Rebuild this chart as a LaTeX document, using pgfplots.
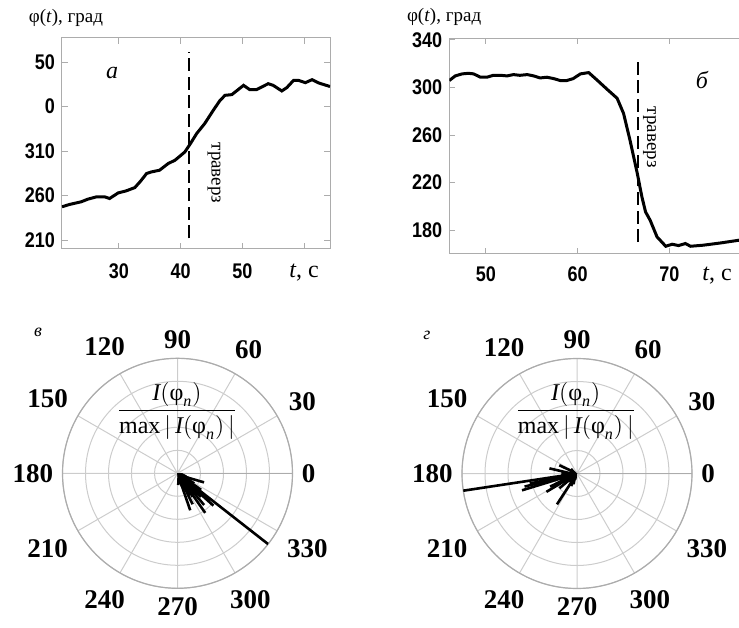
\documentclass[border=0pt]{standalone}
\usepackage{fontspec}
\setmainfont{Liberation Serif}
\newfontfamily\hel{Liberation Sans}
\usepackage{amsmath}
\usepackage{graphicx}
\usepackage{pgfplots}
\pgfplotsset{compat=1.18}
\usepackage{pgfplotstable}
\usepgfplotslibrary{polar}
\usetikzlibrary{arrows.meta}

\pgfplotstableread{
t phi
20.8 247.4
22.0 250
23.9 253
25.0 256
26.4 258.6
27.7 258.6
28.5 256.7
29.9 263
31.2 265.3
32.6 269
33.5 276
34.5 284.8
35.3 286.6
36.6 288.5
38.0 296
39.1 299.7
40.7 309
41.6 318.4
42.6 329.6
43.9 340.8
45.3 355.8
46.4 367
47.2 372.6
48.3 373.4
50.2 383.8
51.2 379
52.3 379
54.2 385.7
55.0 383.8
56.4 377.5
57.2 381.2
58.3 389.4
59.1 389.4
60.2 386.8
61.3 390.2
62.4 386.4
64.2 382.5
}\dataA

\pgfplotstableread{
t phi
46.0 305.8
46.65 309.7
47.4 311.4
48.1 311.9
48.65 311.4
49.4 308.6
50.1 308.6
50.8 310.2
51.6 310.2
52.3 309.7
53.0 310.8
53.7 310.2
54.5 310.8
55.2 309.7
55.9 308
56.65 308.6
57.4 307.4
58.1 305.8
58.8 305.8
59.5 307.4
60.3 311.4
61.2 312.5
62.1 306.3
63.2 298.5
64.3 290.9
65.0 278.2
65.7 255.8
66.5 227.7
67.0 208.1
67.4 195.4
67.9 188.4
68.65 174.4
69.6 166.5
70.3 168.2
71.0 167.1
71.75 168.8
72.3 166.5
73.7 167.4
75.6 169.3
77.6 171.6
80.0 174
}\dataB

\newcommand{\tl}{\hel\bfseries\fontsize{10.6}{11}\selectfont}
\newcommand{\sx}[1]{\scalebox{0.85}[1]{#1}}
\newcommand{\pl}{\bfseries\fontsize{13.5}{14}\selectfont}
\newcommand{\lbl}{\fontsize{9.5}{11}\selectfont}
\newcommand{\tc}{\rmfamily\mdseries\fontsize{12}{12}\selectfont\textit{t}, с}
\newcommand{\arr}[2]{%
  \pgfmathsetmacro\al{11.5*#2}\pgfmathsetmacro\aw{9.2*#2}%
  \edef\doarr{\noexpand\addplot[black, line width=1.3pt, -{Straight Barb[length=\al pt 0 0, width=\aw pt 0 0]}] coordinates {(#1,#2) (0,0)};}%
  \doarr}

\pgfplotsset{
  lineax/.style={
    anchor=south west, scale only axis,
    tick align=inside,
    axis line style={gray!65, line width=0.5pt},
    tick style={gray!65, line width=0.5pt},
    major tick length=3pt,
    ticklabel style={font=\tl},
  },
  polax/.style={
    anchor=center, scale only axis, width=115pt, height=115pt,
    ymin=0, ymax=1,
    xtick={0,30,...,330},
    xticklabels={0,30,60,90,120,150,180,210,240,270,300,330},
    ytick={0.2,0.4,0.6,0.8,1},
    yticklabels={},
    grid=major,
    major grid style={gray!40, line width=0.5pt},
    axis line style={gray!65, line width=0.6pt},
    tick style={draw=none},
    xticklabel style={font=\pl, inner sep=0.45em},
  }
}

\begin{document}
\begin{tikzpicture}
\path[use as bounding box] (0,0) rectangle (369.5pt,313.5pt);

% ---------------- panel a
\begin{axis}[lineax,
  at={(31pt,189pt)}, width=134pt, height=105.5pt,
  xmin=20.8, xmax=64.2, ymin=200, ymax=437,
  xtick={30,40,50,60},
  xticklabels={\sx{30},\sx{40},\sx{50},{\tc}},
  ytick={210,260,310,360,410}, yticklabels={\sx{210},\sx{260},\sx{310},\sx{0},\sx{50}},
  xticklabel style={yshift=-4pt},
]
\addplot[black, line width=1.5pt] table[x=t,y=phi] {\dataA};
\addplot[black, line width=1.2pt, dash pattern=on 6.5pt off 2.8pt] coordinates {(41.4,212) (41.4,421)};
\end{axis}

% ---------------- panel b
\begin{axis}[lineax,
  at={(224.65pt,186.5pt)}, width=155.9pt, height=107.9pt,
  xmin=46, xmax=80, ymin=160, ymax=341.4,
  xtick={50,60,70,80}, xticklabels={\sx{50},\sx{60},\sx{70},},
  extra x ticks={75.2},
  extra x tick labels={{\tc}},
  extra x tick style={major tick length=0pt},
  ytick={180,220,260,300,340},
  yticklabels={\sx{180},\sx{220},\sx{260},\sx{300},\sx{340}},
  xticklabel style={yshift=-3pt},
]
\addplot[black, line width=1.5pt] table[x=t,y=phi] {\dataB};
\addplot[black, line width=1.2pt, dash pattern=on 6.5pt off 2.8pt] coordinates {(66.6,170) (66.6,326)};
\end{axis}

% ---------------- panel v
\begin{polaraxis}[polax, at={(88.75pt,76.85pt)}]
\arr{322}{1.0}
\arr{289}{0.34}
\arr{296}{0.30}
\arr{305}{0.42}
\arr{310}{0.36}
\arr{318}{0.42}
\arr{321}{0.37}
\arr{315}{0.29}
\arr{325}{0.25}
\arr{329}{0.17}
\arr{335}{0.12}
\arr{300}{0.22}
\arr{340}{0.08}
\arr{310}{0.15}
\end{polaraxis}

% ---------------- panel g
\begin{polaraxis}[polax, at={(288.5pt,76.75pt)}]
\arr{188.6}{1.0}
\arr{197}{0.50}
\arr{194}{0.47}
\arr{192}{0.42}
\arr{211}{0.31}
\arr{206}{0.26}
\arr{237}{0.32}
\arr{220}{0.20}
\arr{200}{0.15}
\arr{155}{0.17}
\arr{245}{0.12}
\arr{230}{0.10}
\end{polaraxis}

% ---------------- texts
\node[anchor=west, font=\lbl, inner sep=0pt] at (14.2pt,304.3pt) {φ(\textit{t}), град};
\node[anchor=west, font=\lbl, inner sep=0pt] at (203.3pt,305.2pt) {φ(\textit{t}), град};
\node[font=\lbl, rotate=-90, inner sep=0pt] at (107pt,227pt) {траверз};
\node[font=\lbl, rotate=-90, inner sep=0pt] at (324.8pt,244.8pt) {траверз};
\node[font=\fontsize{12}{12}\selectfont\itshape, inner sep=0pt] at (56pt,277pt) {а};
\node[font=\fontsize{12}{12}\selectfont\itshape, inner sep=0pt] at (351pt,273.5pt) {б};
\node[font=\fontsize{9}{9}\selectfont\itshape, inner sep=0pt] at (19pt,147.5pt) {в};
\node[font=\fontsize{9}{9}\selectfont\itshape, inner sep=0pt] at (213.5pt,146pt) {г};
\node[font=\fontsize{12}{12}\selectfont, inner sep=0pt] at (88.5pt,108pt)
  {$\dfrac{\textit{I}(\text{φ}_{\textit{n}})}{\text{max}\,|\,\textit{I}(\text{φ}_{\textit{n}})\,|}$};
\node[font=\fontsize{12}{12}\selectfont, inner sep=0pt] at (287.9pt,108pt)
  {$\dfrac{\textit{I}(\text{φ}_{\textit{n}})}{\text{max}\,|\,\textit{I}(\text{φ}_{\textit{n}})\,|}$};
\end{tikzpicture}
\end{document}
